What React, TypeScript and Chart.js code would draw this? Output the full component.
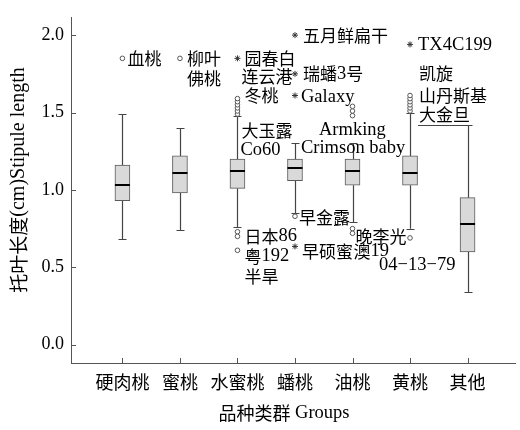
import { useEffect, useRef } from 'react';
import { Chart, registerables } from 'chart.js';

Chart.register(...registerables);

const categories = ['硬肉桃', '蜜桃', '水蜜桃', '蟠桃', '油桃', '黄桃', '其他'];
const whiskerLow = [0.68, 0.74, 0.76, 0.85, 0.79, 0.75, 0.34];
const q1 = [0.93, 0.98, 1.01, 1.06, 1.03, 1.03, 0.6];
const median = [1.03, 1.11, 1.12, 1.14, 1.12, 1.11, 0.78];
const q3 = [1.16, 1.22, 1.2, 1.2, 1.2, 1.22, 0.95];
const whiskerHigh = [1.49, 1.4, 1.48, 1.3, 1.3, 1.5, 1.42];

// mild outliers (circles) and extreme values (stars) per category
const outliers = [
  [1.85],
  [1.85],
  [1.49, 1.51, 1.53, 1.55, 1.57, 1.59, 0.73, 0.7, 0.61],
  [0.83],
  [1.48, 1.51, 1.54, 0.75, 0.72],
  [1.51, 1.53, 1.55, 1.57, 1.59, 1.61, 0.69],
  [],
];
const extremes = [[], [], [1.85], [2.0, 1.75, 1.61, 0.635], [], [1.94], []];

const yTicks = [0, 0.5, 1.0, 1.5, 2.0];

// case labels
const labelText = [
  '血桃', '柳叶', '佛桃', '园春白', '连云港', '冬桃', '大玉露', 'Co60', '日本86', '粤192', '半旱',
  '五月鲜扁干', '瑞蟠3号', 'Galaxy', 'Armking', 'Crimson baby', '早金露', '早硕蜜',
  '晚李光', '澳19', 'TX4C199', '凯旋', '山丹斯基', '大金旦', '04−13−79',
];
const labelCat = [0, 1, 1, 2, 2, 2, 2, 2, 2, 2, 2, 3, 3, 3, 3, 3, 3, 3, 4, 4, 5, 5, 5, 5, 5];
const labelValue = [
  1.85, 1.85, 1.72, 1.85, 1.733, 1.61, 1.385, 1.26, 0.7, 0.57, 0.44,
  1.996, 1.75, 1.6, 1.387, 1.267, 0.82, 0.604,
  0.7, 0.604, 1.936, 1.753, 1.61, 1.485, 0.517,
];
const labelDx = [5, 7, 7, 7, 4, 7, 4, 3, 7, 7, 7, 8, 8, 6, 24, 6, 4, 7, 3, 1, 8, 9, 9, 9, -31];

const FONT = "'Liberation Serif', 'Noto Sans CJK SC', serif";
const LATIN = "'Liberation Serif', serif";
const CJK = "'Noto Sans CJK SC', sans-serif";

const isCJK = (ch: string) => /[\u3000-\u9fff\uff00-\uffef]/.test(ch);

function splitRuns(text: string) {
  const runs: { t: string; cjk: boolean }[] = [];
  for (const ch of text) {
    const c = isCJK(ch);
    const last = runs[runs.length - 1];
    if (last && last.cjk === c) last.t += ch;
    else runs.push({ t: ch, cjk: c });
  }
  return runs;
}

function drawMixed(ctx: any, text: string, x: number, y: number, cjkSize: number, latinSize: number, align: 'left' | 'center') {
  const runs = splitRuns(text);
  const widths = runs.map((r) => {
    ctx.font = r.cjk ? `${cjkSize}px ${CJK}` : `${latinSize}px ${LATIN}`;
    return ctx.measureText(r.t).width;
  });
  const total = widths.reduce((a, b) => a + b, 0);
  let cx = align === 'center' ? x - total / 2 : x;
  ctx.textAlign = 'left';
  ctx.textBaseline = 'middle';
  runs.forEach((r, i) => {
    ctx.font = r.cjk ? `${cjkSize}px ${CJK}` : `${latinSize}px ${LATIN}`;
    ctx.fillText(r.t, cx, y);
    cx += widths[i];
  });
}

const boxPlugin = {
  id: 'boxDecor',
  beforeDatasetsDraw(chart: any) {
    const { ctx, scales } = chart;
    const xs = scales.x;
    const ys = scales.y;
    ctx.save();
    ctx.strokeStyle = '#444';
    ctx.lineWidth = 1.2;
    categories.forEach((_, i) => {
      const x = Math.round(xs.getPixelForValue(i)) + 0.5;
      ctx.beginPath();
      ctx.moveTo(x, ys.getPixelForValue(whiskerLow[i]));
      ctx.lineTo(x, ys.getPixelForValue(q1[i]));
      ctx.moveTo(x, ys.getPixelForValue(q3[i]));
      ctx.lineTo(x, ys.getPixelForValue(whiskerHigh[i]));
      ctx.stroke();
      ctx.beginPath();
      const yl = Math.round(ys.getPixelForValue(whiskerLow[i])) + 0.5;
      const yh = Math.round(ys.getPixelForValue(whiskerHigh[i])) + 0.5;
      ctx.moveTo(x - 4, yl);
      ctx.lineTo(x + 4, yl);
      ctx.moveTo(x - 4, yh);
      ctx.lineTo(x + 4, yh);
      ctx.stroke();
    });
    ctx.restore();
  },
  afterDatasetsDraw(chart: any) {
    const { ctx, scales, chartArea } = chart;
    const xs = scales.x;
    const ys = scales.y;
    ctx.save();
    // medians
    ctx.strokeStyle = '#000';
    ctx.lineWidth = 2;
    categories.forEach((_, i) => {
      const x = xs.getPixelForValue(i);
      const y = Math.round(ys.getPixelForValue(median[i]));
      ctx.beginPath();
      ctx.moveTo(x - 7.5, y);
      ctx.lineTo(x + 7.5, y);
      ctx.stroke();
    });
    // line under 大金旦 joining the 其他 whisker cap
    ctx.strokeStyle = '#444';
    ctx.lineWidth = 1.2;
    const yu = Math.round(ys.getPixelForValue(whiskerHigh[6])) + 0.5;
    ctx.beginPath();
    ctx.moveTo(xs.getPixelForValue(5) + 8, yu);
    ctx.lineTo(xs.getPixelForValue(6) + 4, yu);
    ctx.stroke();
    // case labels
    ctx.fillStyle = '#000';
    labelText.forEach((t, k) => {
      const x = xs.getPixelForValue(labelCat[k]) + labelDx[k];
      const y = ys.getPixelForValue(labelValue[k]);
      drawMixed(ctx, t, x, y, 17, 18.5, 'left');
    });
    // inward tick marks
    ctx.strokeStyle = '#555';
    ctx.lineWidth = 1;
    yTicks.forEach((v) => {
      const y = Math.round(ys.getPixelForValue(v)) + 0.5;
      ctx.beginPath();
      ctx.moveTo(chartArea.left, y);
      ctx.lineTo(chartArea.left + 5, y);
      ctx.stroke();
    });
    categories.forEach((_, i) => {
      const x = Math.round(xs.getPixelForValue(i)) + 0.5;
      ctx.beginPath();
      ctx.moveTo(x, chartArea.bottom);
      ctx.lineTo(x, chartArea.bottom - 5);
      ctx.stroke();
    });
    // axis titles
    drawMixed(ctx, '品种类群 Groups', 284, 413, 18, 18.5, 'center');
    ctx.translate(19, 180);
    ctx.rotate(-Math.PI / 2);
    drawMixed(ctx, '托叶长度(cm)Stipule length', 0, 0, 19, 20, 'center');
    ctx.restore();
  },
};

export default function App() {
  const ref = useRef<HTMLCanvasElement>(null);
  useEffect(() => {
    if (!ref.current) return;
    const circlePts: { x: number; y: number }[] = [];
    outliers.forEach((arr, i) => arr.forEach((v) => circlePts.push({ x: i, y: v })));
    const starPts: { x: number; y: number }[] = [];
    extremes.forEach((arr, i) => arr.forEach((v) => starPts.push({ x: i, y: v })));
    const chart = new Chart(ref.current, {
      type: 'bar',
      data: {
        datasets: [
          {
            type: 'bar',
            data: categories.map((_, i) => ({ x: i, y: [q1[i], q3[i]] })) as any,
            backgroundColor: '#d9d9d9',
            borderColor: '#5a5a5a',
            borderWidth: 1,
            borderSkipped: false,
            barThickness: 15,
          } as any,
          {
            type: 'scatter',
            data: circlePts,
            pointStyle: 'circle',
            pointRadius: 2.3,
            backgroundColor: '#fff',
            borderColor: '#555',
            borderWidth: 1,
          } as any,
          {
            type: 'scatter',
            data: starPts,
            pointStyle: 'star',
            pointRadius: 3,
            borderColor: '#333',
            borderWidth: 1,
          } as any,
        ],
      },
      options: {
        responsive: false,
        animation: false,
        layout: { padding: { top: 4, right: 0, left: 0, bottom: 0 } },
        plugins: { legend: { display: false }, tooltip: { enabled: false } },
        scales: {
          x: {
            type: 'linear',
            offset: false,
            min: -0.894,
            max: 6.825,
            afterBuildTicks: (axis: any) => {
              axis.ticks = categories.map((_, i) => ({ value: i }));
            },
            afterFit: (axis: any) => {
              axis.height = 67;
            },
            grid: { display: true, offset: false, drawOnChartArea: false, drawTicks: false },
            border: { display: true, color: '#555', width: 1 },
            ticks: {
              padding: 10,
              color: '#000',
              font: { family: FONT, size: 18 },
              maxRotation: 0,
              autoSkip: false,
              callback: (v: any) => categories[Math.round(Number(v))] ?? '',
            },
          },
          y: {
            type: 'linear',
            min: -0.118,
            max: 2.112,
            afterBuildTicks: (axis: any) => {
              axis.ticks = yTicks.map((v) => ({ value: v }));
            },
            afterFit: (axis: any) => {
              axis.width = 71;
            },
            grid: { display: true, drawOnChartArea: false, drawTicks: false },
            border: { display: true, color: '#555', width: 1 },
            ticks: {
              padding: 7,
              color: '#000',
              font: { family: FONT, size: 18 },
              callback: (v: any) => Number(v).toFixed(1),
            },
          },
        },
      },
      plugins: [boxPlugin],
    } as any);
    return () => chart.destroy();
  }, []);
  return (
    <div style={{ position: 'absolute', left: 0, top: 0, width: 520, height: 430, background: '#fff' }}>
      <canvas ref={ref} width={520} height={430} style={{ display: 'block' }} />
    </div>
  );
}
